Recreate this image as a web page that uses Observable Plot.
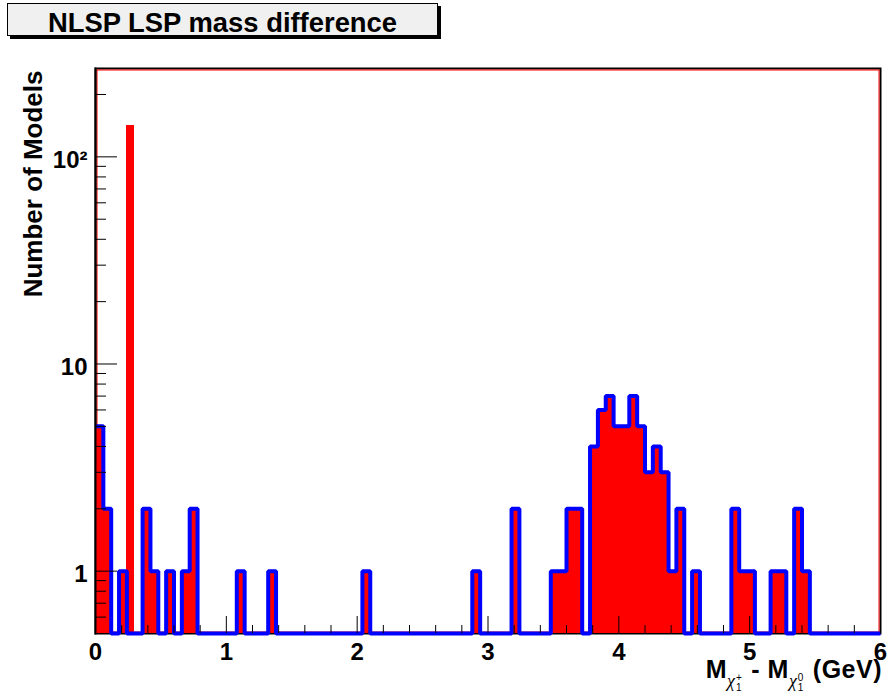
<!DOCTYPE html>
<html><head><meta charset="utf-8">
<script src="https://cdn.jsdelivr.net/npm/d3@7"></script>
<script src="https://cdn.jsdelivr.net/npm/@observablehq/plot@0.6"></script>
<style>
body{margin:0;background:#fff;font-family:"Liberation Sans",Arial,sans-serif;}
#wrap{position:relative;width:888px;height:698px;overflow:hidden;}
#title{position:absolute;left:7px;top:3px;width:429px;height:28px;padding-top:3px;background:#f0f0f0;border:1px solid #000;box-shadow:3px 3px 0 #000;font-weight:bold;font-size:27.4px;line-height:31px;text-align:center;white-space:nowrap;}
#xlab{position:absolute;right:6px;top:657px;font-weight:bold;font-size:25px;line-height:24px;white-space:nowrap;letter-spacing:0.5px;}
.chi{font-family:"Liberation Serif",serif;font-weight:normal;font-style:italic;font-size:18px;position:relative;top:9px;letter-spacing:0;}
.idx{display:inline-block;vertical-align:middle;font-family:"Liberation Sans",Arial,sans-serif;font-style:normal;font-weight:normal;font-size:10px;line-height:10px;margin-left:1px;margin-right:2px;}
.idx span{display:block;}
</style></head><body>
<div id="wrap">
<div id="chart"></div>
<div id="title">NLSP LSP mass difference</div>
<div id="xlab">M<span class="chi">χ<span class="idx"><span>+</span><span>1</span></span></span> - M<span class="chi">χ<span class="idx"><span>0</span><span>1</span></span></span> (GeV)</div>
</div>
<script>
// Histogram definition: 100 bins from 0 to 6 GeV
const xMin = 0, xMax = 6, nBins = 100;
const yFloor = 0.5, yTop = 267;

// All models (red filled histogram)
const allModels = [
  5,2,0,1,141,0,2,1,0,1,
  0,1,2,0,0,0,0,0,1,0,
  0,0,1,0,0,0,0,0,0,0,
  0,0,0,0,1,0,0,0,0,0,
  0,0,0,0,0,0,0,0,1,0,
  0,0,0,2,0,0,0,0,1,1,
  2,2,0,4,6,7,5,5,7,5,
  3,4,3,1,2,0,1,0,0,0,
  0,2,1,1,0,0,1,1,0,2,
  1,0,0,0,0,0,0,0,0,0
];
// Subset (blue outlined histogram)
const subsetModels = [
  5,2,0,1,0,0,2,1,0,1,
  0,1,2,0,0,0,0,0,1,0,
  0,0,1,0,0,0,0,0,0,0,
  0,0,0,0,1,0,0,0,0,0,
  0,0,0,0,0,0,0,0,1,0,
  0,0,0,2,0,0,0,0,1,1,
  2,2,0,4,6,7,5,5,7,5,
  3,4,3,1,2,0,1,0,0,0,
  0,2,1,1,0,0,1,1,0,2,
  1,0,0,0,0,0,0,0,0,0
];

const xMajor = [0,1,2,3,4,5,6];
const xMinor = [0.2,0.4,0.6,0.8,1.2,1.4,1.6,1.8,2.2,2.4,2.6,2.8,3.2,3.4,3.6,3.8,4.2,4.4,4.6,4.8,5.2,5.4,5.6,5.8];
const yMajor = [1,10,100];
const yMajorLabels = ["1","10","10²"];
const yMinor = [0.6,0.7,0.8,0.9,2,3,4,5,6,7,8,9,20,30,40,50,60,70,80,90,200];

const bw = (xMax - xMin) / nBins;
const redBins = allModels.map((v, i) => ({lo: xMin + i * bw, hi: xMin + (i + 1) * bw, v})).filter(d => d.v > 0);
const steps = [];
subsetModels.forEach((v, i) => {
  const y = Math.max(v, yFloor);
  steps.push({x: xMin + i * bw, y});
  steps.push({x: xMin + (i + 1) * bw, y});
});

const fmtY = d => yMajorLabels[yMajor.indexOf(d)];
const tickStyle = {stroke: "#000", strokeWidth: 1, label: null};

const chart = Plot.plot({
  width: 888,
  height: 698,
  marginLeft: 95,
  marginRight: 8,
  marginTop: 68,
  marginBottom: 65,
  style: {fontFamily: "'Liberation Sans', Arial, sans-serif", background: "#fff", color: "#000"},
  x: {domain: [xMin, xMax]},
  y: {type: "log", domain: [yFloor, yTop]},
  marks: [
    Plot.frame({stroke: "#000", strokeWidth: 2}),
    Plot.frame({stroke: "#ff0000", strokeWidth: 1, inset: 1.5}),
    Plot.rectY(redBins, {x1: "lo", x2: "hi", y1: () => yFloor, y2: "v", fill: "#ff0000", inset: 0, shapeRendering: "crispEdges"}),
    Plot.line(steps, {x: "x", y: "y", stroke: "#0000ff", strokeWidth: 4, strokeLinejoin: "miter", strokeLinecap: "butt"}),
    Plot.frame({anchor: "left", stroke: "#000", strokeWidth: 2}),
    Plot.axisX({ticks: xMajor, tickSize: -17, tickFormat: () => "", ...tickStyle}),
    Plot.axisX({ticks: xMinor, tickSize: -8, tickFormat: () => "", ...tickStyle}),
    Plot.axisX({ticks: xMajor, tickSize: 0, tickPadding: 9, tickFormat: d => String(d), fontSize: 24, fontWeight: "bold", label: null}),
    Plot.axisY({ticks: yMajor, tickSize: -22, tickFormat: () => "", ...tickStyle}),
    Plot.axisY({ticks: yMinor, tickSize: -11, tickFormat: () => "", ...tickStyle}),
    Plot.axisY({ticks: yMajor, tickSize: 0, tickPadding: 8, dy: 3, tickFormat: fmtY, fontSize: 24, fontWeight: "bold", label: null}),
    Plot.text(["Number of Models"], {text: d => d, frameAnchor: "top-left", rotate: -90, textAnchor: "end", dx: -72, dy: 2, fontSize: 26, fontWeight: "bold", fill: "#000"})
  ]
});
document.getElementById("chart").appendChild(chart);
</script>
</body></html>
